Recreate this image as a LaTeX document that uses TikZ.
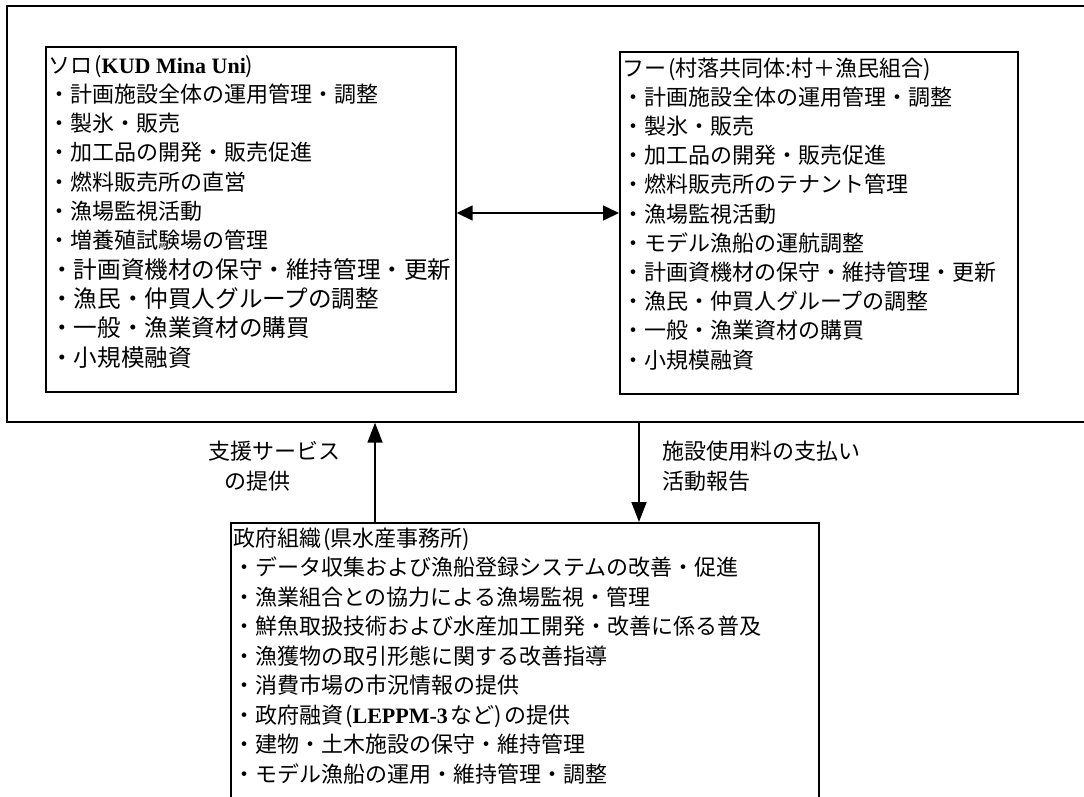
\documentclass[tikz,border=0pt]{standalone}
\usepackage{fontspec}
\setmainfont{Liberation Serif}
\newfontfamily\jp{Noto Sans CJK JP}
\usetikzlibrary{arrows.meta}
\tikzset{
  frame/.style={draw=black, line width=1.7pt, inner sep=0pt},
  txt/.style={anchor=base west, inner sep=0pt, font=\jp\fontsize{22}{29}\selectfont},
  wtxt/.style={txt, font=\jp\fontsize{23.6}{29}\selectfont},
  lbl/.style={inner sep=0pt, font=\jp\fontsize{22}{30}\selectfont},
  conn/.style={line width=1.8pt, -{Triangle[length=20pt,width=15pt]}},
  dconn/.style={line width=1.6pt, {Triangle[length=16pt,width=15pt]}-{Triangle[length=16pt,width=15pt]}}
}
\newcommand{\lt}[1]{{\rmfamily\bfseries #1}}
\newcommand{\op}{\hspace{2pt}(}
\newcommand{\cp}{)\hspace{2pt}}
\begin{document}
\begin{tikzpicture}[x=1pt,y=-1pt]
\useasboundingbox (0,0) rectangle (1084,796);
\clip (0,0) rectangle (1084,796);
\fill[white] (0,0) rectangle (1084,796);
% outer frame (open to the right)
\node[frame, minimum width=1120pt, minimum height=416pt, anchor=north west] (outer) at (6,5) {};
% boxes
\node[frame, minimum width=410pt, minimum height=345pt, anchor=north west] (L) at (45,46) {};
\node[frame, minimum width=398pt, minimum height=342pt, anchor=north west] (R) at (619,51) {};
\node[frame, minimum width=588pt, minimum height=300pt, anchor=north west] (B) at (230,522) {};
% left text
\foreach \t [count=\i] in {
  ソロ\op\lt{KUD Mina Uni}\cp,
  ・計画施設全体の運用管理・調整,
  ・製氷・販売,
  ・加工品の開発・販売促進,
  ・燃料販売所の直営,
  ・漁場監視活動,
  ・増養殖試験場の管理}
  \node[txt] (Lt\i) at (48, {73+(\i-1)*29.3}) {\t};
\foreach \t [count=\i from 8] in {
  ・計画資機材の保守・維持管理・更新,
  ・漁民・仲買人グループの調整,
  ・一般・漁業資材の購買,
  ・小規模融資}
  \node[wtxt] (Lt\i) at (50, {73+(\i-1)*29.3}) {\t};
% right text
\foreach \t [count=\i] in {
  フー\op 村落共同体:村＋漁民組合\cp,
  ・計画施設全体の運用管理・調整,
  ・製氷・販売,
  ・加工品の開発・販売促進,
  ・燃料販売所のテナント管理,
  ・漁場監視活動,
  ・モデル漁船の運航調整,
  ・計画資機材の保守・維持管理・更新,
  ・漁民・仲買人グループの調整,
  ・一般・漁業資材の購買,
  ・小規模融資}
  \node[txt] (Rt\i) at (622, {76+(\i-1)*29.2}) {\t};
% bottom text
\foreach \t [count=\i] in {
  政府組織\op 県水産事務所\cp,
  ・データ収集および漁船登録システムの改善・促進,
  ・漁業組合との協力による漁場監視・管理,
  ・鮮魚取扱技術および水産加工開発・改善に係る普及,
  ・漁獲物の取引形態に関する改善指導,
  ・消費市場の市況情報の提供,
  ・政府融資\op\lt{LEPPM-3}\hspace{3pt}など\cp の提供,
  ・建物・土木施設の保守・維持管理,
  ・モデル漁船の運用・維持管理・調整}
  \node[txt] (Bt\i) at (233, {546+(\i-1)*29.5}) {\t};
% connectors
\coordinate (mid) at (0,213);
\draw[dconn] (L.east |- mid) -- (R.west |- mid);
\coordinate (ux) at (375,0);
\coordinate (dx) at (639,0);
\draw[conn] (B.north -| ux) -- (outer.south -| ux);
\draw[conn] (outer.south -| dx) -- (B.north -| dx);
% labels
\node[lbl, align=left, anchor=west] (lab1) at (208,466) {支援サービス\\\hspace{16pt}の提供};
\node[lbl, align=left, anchor=west] (lab2) at (662,466) {施設使用料の支払い\\活動報告};
\end{tikzpicture}
\end{document}
